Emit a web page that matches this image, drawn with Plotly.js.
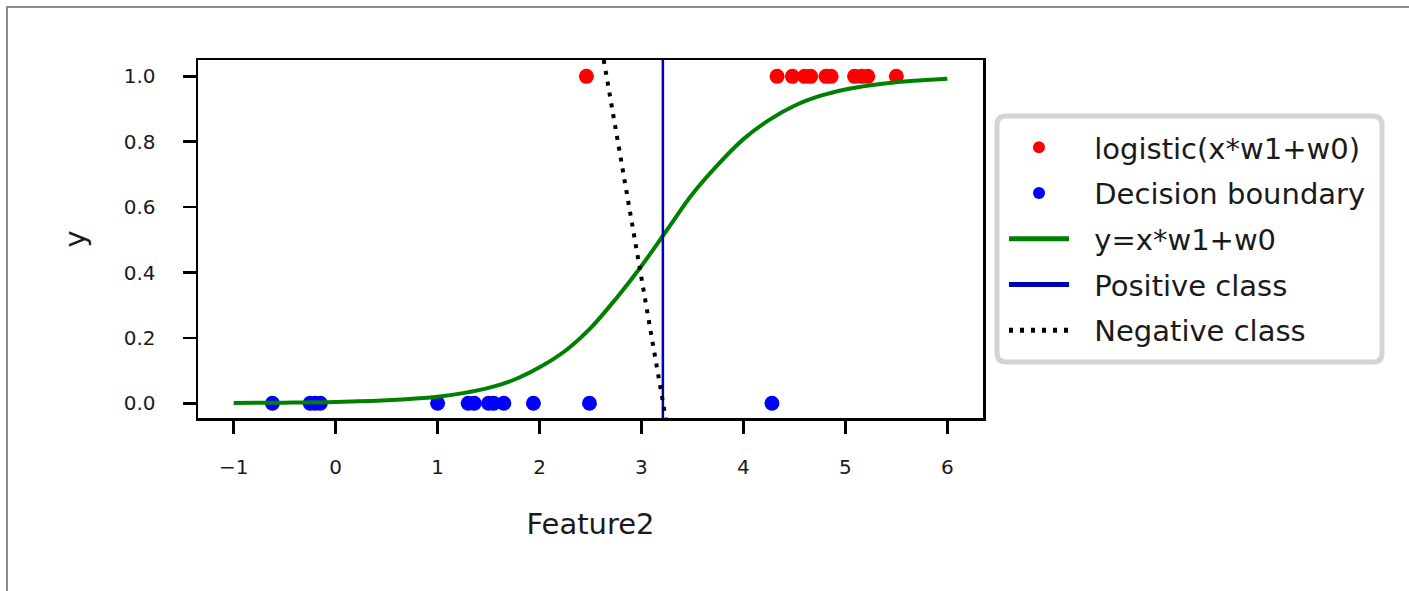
<!DOCTYPE html>
<html>
<head>
<meta charset="utf-8">
<script src="https://cdn.plot.ly/plotly-3.0.1.min.js"></script>
<style>
  html, body { margin: 0; padding: 0; background: #fff; }
  #wrap { position: relative; width: 1409px; height: 591px; }
  #chart { position: absolute; left: 0; top: 0; width: 1409px; height: 591px; }
  #frame { position: absolute; left: 6px; top: 6px; width: 1403px; height: 585px;
           border-top: 2px solid #8c8c8c; border-left: 2px solid #8c8c8c; pointer-events: none; }
</style>
</head>
<body>
<div id="wrap">
  <div id="chart"></div>
  <div id="frame"></div>
</div>
<script>
// Data
const posX = [2.46, 4.33, 4.48, 4.60, 4.66, 4.81, 4.86, 5.09, 5.16, 5.22, 5.50];
const posY = [1, 1, 1, 1, 1, 1, 1, 1, 1, 1, 1];
const negX = [-0.62, -0.25, -0.20, -0.15, 1.00, 1.30, 1.36, 1.50, 1.55, 1.65, 1.94, 2.49, 4.28];
const negY = [0, 0, 0, 0, 0, 0, 0, 0, 0, 0, 0, 0, 0];
const curveX = [-1, -0.5, 0, 0.5, 1.0, 1.25, 1.5, 1.75, 2.0, 2.25, 2.5, 2.75, 3.0, 3.25, 3.5, 3.75, 4.0, 4.25, 4.5, 4.75, 5.0, 5.25, 5.5, 5.75, 6];
const curveY = [0.001, 0.002, 0.004, 0.009, 0.020, 0.031, 0.047, 0.072, 0.110, 0.160, 0.230, 0.320, 0.420, 0.530, 0.640, 0.730, 0.808, 0.866, 0.910, 0.940, 0.960, 0.973, 0.982, 0.988, 0.993];
const boundaryX = [3.21, 3.21];
const boundaryY = [-0.06, 1.06];
const lineX = [2.63, 3.24];
const lineY = [1.05, -0.05];
const labels = ['logistic(x*w1+w0)', 'Decision boundary', 'y=x*w1+w0', 'Positive class', 'Negative class'];
const xTicks = [-1, 0, 1, 2, 3, 4, 5, 6];
const xTickText = ['\u22121', '0', '1', '2', '3', '4', '5', '6'];
const yTicks = [0.0, 0.2, 0.4, 0.6, 0.8, 1.0];
const yTickText = ['0.0', '0.2', '0.4', '0.6', '0.8', '1.0'];

const FONT = 'DejaVu Sans, Liberation Sans, sans-serif';
const GAP = '\u2002\u2009';

const traces = [
  { x: posX, y: posY, mode: 'markers', type: 'scatter', name: GAP + labels[0], legendgroup: 'a',
    marker: { color: '#ff0000', size: 15 }, cliponaxis: false },
  { x: negX, y: negY, mode: 'markers', type: 'scatter', name: GAP + labels[1], legendgroup: 'b',
    marker: { color: '#0000ff', size: 15 }, cliponaxis: false },
  { x: curveX, y: curveY, mode: 'lines', type: 'scatter', name: GAP + labels[2], legendgroup: 'c',
    line: { color: '#008000', width: 4, shape: 'spline', smoothing: 1, simplify: false } },
  { x: boundaryX, y: boundaryY, mode: 'lines', type: 'scatter', name: GAP + labels[3], legendgroup: 'd',
    line: { color: '#0000b4', width: 2.5 } },
  { x: lineX, y: lineY, mode: 'lines', type: 'scatter', name: GAP + labels[4], legendgroup: 'e',
    line: { color: '#000000', width: 4, dash: '4px,7px' } }
];

// plot area: x 198..983 px, y 60..418 px
const L = 198, R = 983, T = 60, B = 418;
const pw = R - L, ph = B - T;
function px(v) { return (v - L) / pw; }
function py(v) { return (B - v) / ph; }
const bx0 = px(997), bx1 = px(1382), by0 = py(362), by1 = py(116);
const rx = 9 / pw, ry = 9 / ph;
const boxPath = 'M' + (bx0 + rx) + ',' + by1 +
  ' L' + (bx1 - rx) + ',' + by1 +
  ' Q' + bx1 + ',' + by1 + ' ' + bx1 + ',' + (by1 - ry) +
  ' L' + bx1 + ',' + (by0 + ry) +
  ' Q' + bx1 + ',' + by0 + ' ' + (bx1 - rx) + ',' + by0 +
  ' L' + (bx0 + rx) + ',' + by0 +
  ' Q' + bx0 + ',' + by0 + ' ' + bx0 + ',' + (by0 + ry) +
  ' L' + bx0 + ',' + (by1 - ry) +
  ' Q' + bx0 + ',' + by1 + ' ' + (bx0 + rx) + ',' + by1 + ' Z';

const layout = {
  width: 1409, height: 591,
  margin: { l: L, r: 1409 - R, t: T, b: 591 - B, pad: 0 },
  paper_bgcolor: 'rgba(0,0,0,0)',
  plot_bgcolor: '#ffffff',
  font: { family: FONT, color: '#000000' },
  showlegend: true,
  legend: {
    x: px(1004), y: py(122), xanchor: 'left', yanchor: 'top',
    bgcolor: 'rgba(0,0,0,0)', borderwidth: 0,
    font: { family: FONT, size: 29, color: '#1a1a1a' },
    traceorder: 'grouped', tracegroupgap: 5,
    itemwidth: 60, itemsizing: 'constant'
  },
  xaxis: {
    range: [-1.35, 6.35], tickvals: xTicks, ticktext: xTickText,
    showgrid: false, zeroline: false,
    showline: true, linecolor: '#000', linewidth: 2.5, mirror: true,
    ticks: 'outside', ticklen: 13, tickwidth: 2.5, tickcolor: '#000',
    ticklabelstandoff: 16,
    tickfont: { family: FONT, size: 20, color: '#1a1a1a' },
    title: { text: 'Feature2', font: { family: FONT, size: 29, color: '#1a1a1a' }, standoff: 36 },
    automargin: false
  },
  yaxis: {
    range: [-0.045, 1.05], tickvals: yTicks, ticktext: yTickText,
    showgrid: false, zeroline: false,
    showline: true, linecolor: '#000', linewidth: 2.5, mirror: true,
    ticks: 'outside', ticklen: 13, tickwidth: 2.5, tickcolor: '#000',
    ticklabelstandoff: 23,
    tickfont: { family: FONT, size: 20, color: '#1a1a1a' },
    title: { text: 'y', font: { family: FONT, size: 29, color: '#1a1a1a' }, standoff: 30 },
    automargin: false
  },
  shapes: [
    { type: 'path', xref: 'paper', yref: 'paper', path: boxPath,
      fillcolor: '#ffffff', line: { color: '#d4d4d4', width: 5 }, layer: 'above' }
  ]
};

Plotly.newPlot('chart', traces, layout, { staticPlot: true, displayModeBar: false });
</script>
</body>
</html>
